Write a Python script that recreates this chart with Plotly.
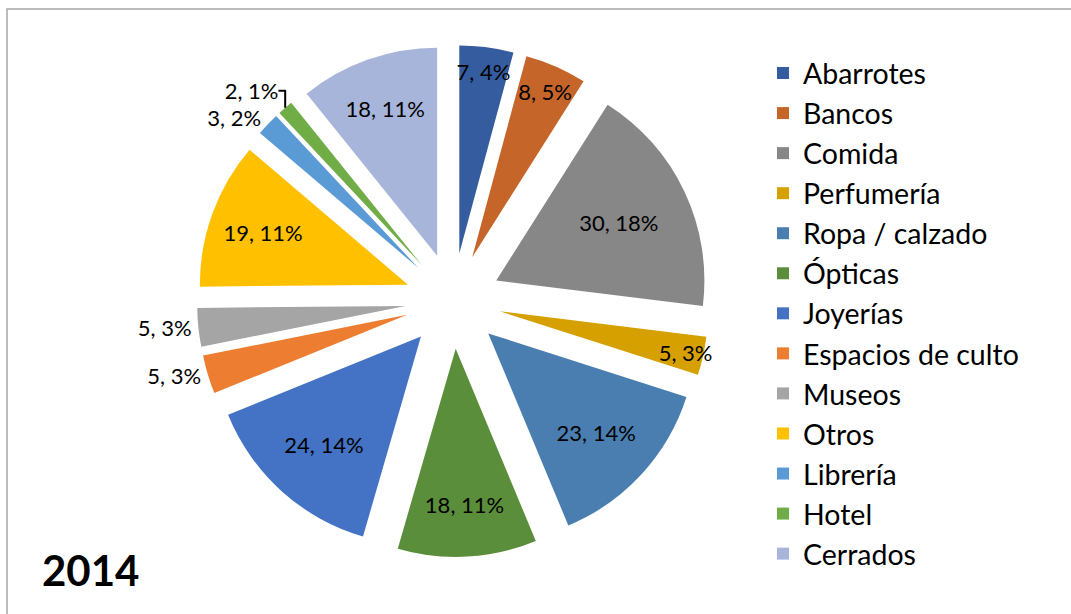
import plotly.graph_objects as go

categories = ["Abarrotes", "Bancos", "Comida", "Perfumería", "Ropa / calzado", "Ópticas",
              "Joyerías", "Espacios de culto", "Museos", "Otros", "Librería", "Hotel", "Cerrados"]
values = [7, 8, 30, 5, 23, 18, 24, 5, 5, 19, 3, 2, 18]
colors = ["#345C9F", "#C6652A", "#878787", "#D5A000", "#4A7EB0", "#5B8E3A",
          "#4472C4", "#ED7D31", "#A5A5A5", "#FFC000", "#5B9BD5", "#70AD47", "#A7B5DA"]
label_pos = ["inside", "inside", "inside", "inside", "inside", "inside",
             "inside", "outside", "outside", "inside", "outside", "outside", "inside"]
title_text = "2014"

W, H = 1071, 614
FONT = "Lato, 'Open Sans', sans-serif"

fig = go.Figure(go.Pie(
    labels=categories,
    values=values,
    marker=dict(colors=colors, line=dict(width=0)),
    sort=False,
    direction="clockwise",
    rotation=0,
    pull=[0.23] * len(values),
    texttemplate="%{value}, %{percent:.0%}",
    textposition=label_pos,
    insidetextorientation="horizontal",
    textfont=dict(family=FONT, size=22, color="#000000"),
    outsidetextfont=dict(family=FONT, size=22, color="#000000"),
    domain=dict(x=[197 / W, 709 / W], y=[(H - 557) / H, (H - 45) / H]),
    hoverinfo="label+value+percent",
))

fig.update_layout(
    width=W, height=H,
    margin=dict(l=0, r=0, t=0, b=0, pad=0, autoexpand=False),
    paper_bgcolor="white",
    plot_bgcolor="white",
    font=dict(family=FONT, color="#000000"),
    uniformtext=dict(minsize=22, mode="show"),
    legend=dict(
        x=763 / W, y=(H - 48) / H, xanchor="left", yanchor="top",
        font=dict(family=FONT, size=28.5, color="#000000"),
        bgcolor="rgba(0,0,0,0)",
        traceorder="normal",
        maxheight=600,
    ),
    shapes=[dict(type="rect", xref="paper", yref="paper",
                 x0=7 / W, x1=1.05, y0=-0.05, y1=(H - 9) / H,
                 line=dict(color="#A6A6A6", width=1.5), fillcolor="rgba(0,0,0,0)", layer="below")],
    annotations=[dict(text="<b>" + title_text + "</b>", xref="paper", yref="paper",
                      x=40 / W, y=(H - 570) / H, xanchor="left", yanchor="middle",
                      showarrow=False, font=dict(family=FONT, size=42, color="#000000"))],
)

fig.write_html("out.html", config={"displayModeBar": False},
               post_script="document.body.style.margin='0';")
